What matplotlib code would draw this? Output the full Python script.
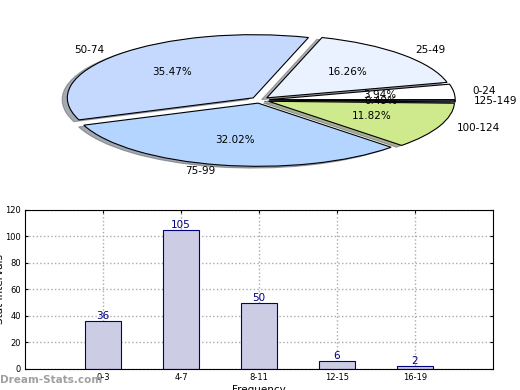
import matplotlib
matplotlib.use("Agg")
import matplotlib.pyplot as plt

# pie data
PIE_LABELS = ["0-24", "25-49", "50-74", "75-99", "100-124", "125-149"]
PIE_PERCENT = [3.94, 16.26, 35.47, 32.02, 11.82, 0.49]
PIE_COLORS = ["#FFFFFF", "#EAF1FF", "#C5D9FF", "#B3D5FF", "#CFEA8C", "#5A6E9A"]

# bar data
BAR_LABELS = ["0-3", "4-7", "8-11", "12-15", "16-19"]
BAR_VALUES = [36, 105, 50, 6, 2]

BAR_FACE = "#CCCCE5"
BAR_EDGE = "#000080"


def draw_pie(fig):
    ax = fig.add_axes([0.053, 0.541, 0.894, 0.405])
    ax.pie(PIE_PERCENT, labels=PIE_LABELS, colors=PIE_COLORS,
           explode=[0.05] * len(PIE_PERCENT), autopct="%1.2f%%",
           shadow={"ox": -0.02, "oy": -0.02, "shade": 0.6}, startangle=0,
           wedgeprops={"edgecolor": "black", "linewidth": 0.8},
           textprops={"fontsize": 7.5})
    ax.set_aspect("auto")
    ax.set_xlim(-1.25, 1.25)
    ax.set_ylim(-1.25, 1.25)


def draw_bars(fig):
    ax = fig.add_axes([0.048, 0.054, 0.9, 0.408])
    pos = range(len(BAR_VALUES))
    ax.bar(pos, BAR_VALUES, width=0.46, color=BAR_FACE,
           edgecolor=BAR_EDGE, linewidth=0.8, zorder=2)
    for x, v in zip(pos, BAR_VALUES):
        ax.text(x, v, str(v), ha="center", va="bottom", color=BAR_EDGE,
                fontsize=7.5, zorder=3)
    ax.set_xlim(-1, 5)
    ax.set_ylim(0, 120)
    ax.set_xticks(list(pos))
    ax.set_xticklabels(BAR_LABELS)
    ax.set_yticks(range(0, 121, 20))
    ax.tick_params(labelsize=6, direction="in", length=2, pad=3,
                   top=True, right=True)
    ax.grid(True, linestyle=":", color="#AAAAAA", linewidth=1, zorder=0)
    ax.set_axisbelow(True)
    ax.set_ylabel("Stat Intervals", fontsize=7.5)
    ax.yaxis.set_label_coords(-0.043, 0.5)
    ax.set_xlabel("Frequency", fontsize=7.5)
    ax.xaxis.set_label_coords(0.5, -0.1)


fig = plt.figure(figsize=(5.2, 3.9), dpi=100)
draw_pie(fig)
draw_bars(fig)
fig.text(0.0, 0.025, "Dream-Stats.com", color="#A0A0A0", fontsize=7.5,
         fontweight="bold", va="center", ha="left")
fig.savefig("out.png", dpi=100)
